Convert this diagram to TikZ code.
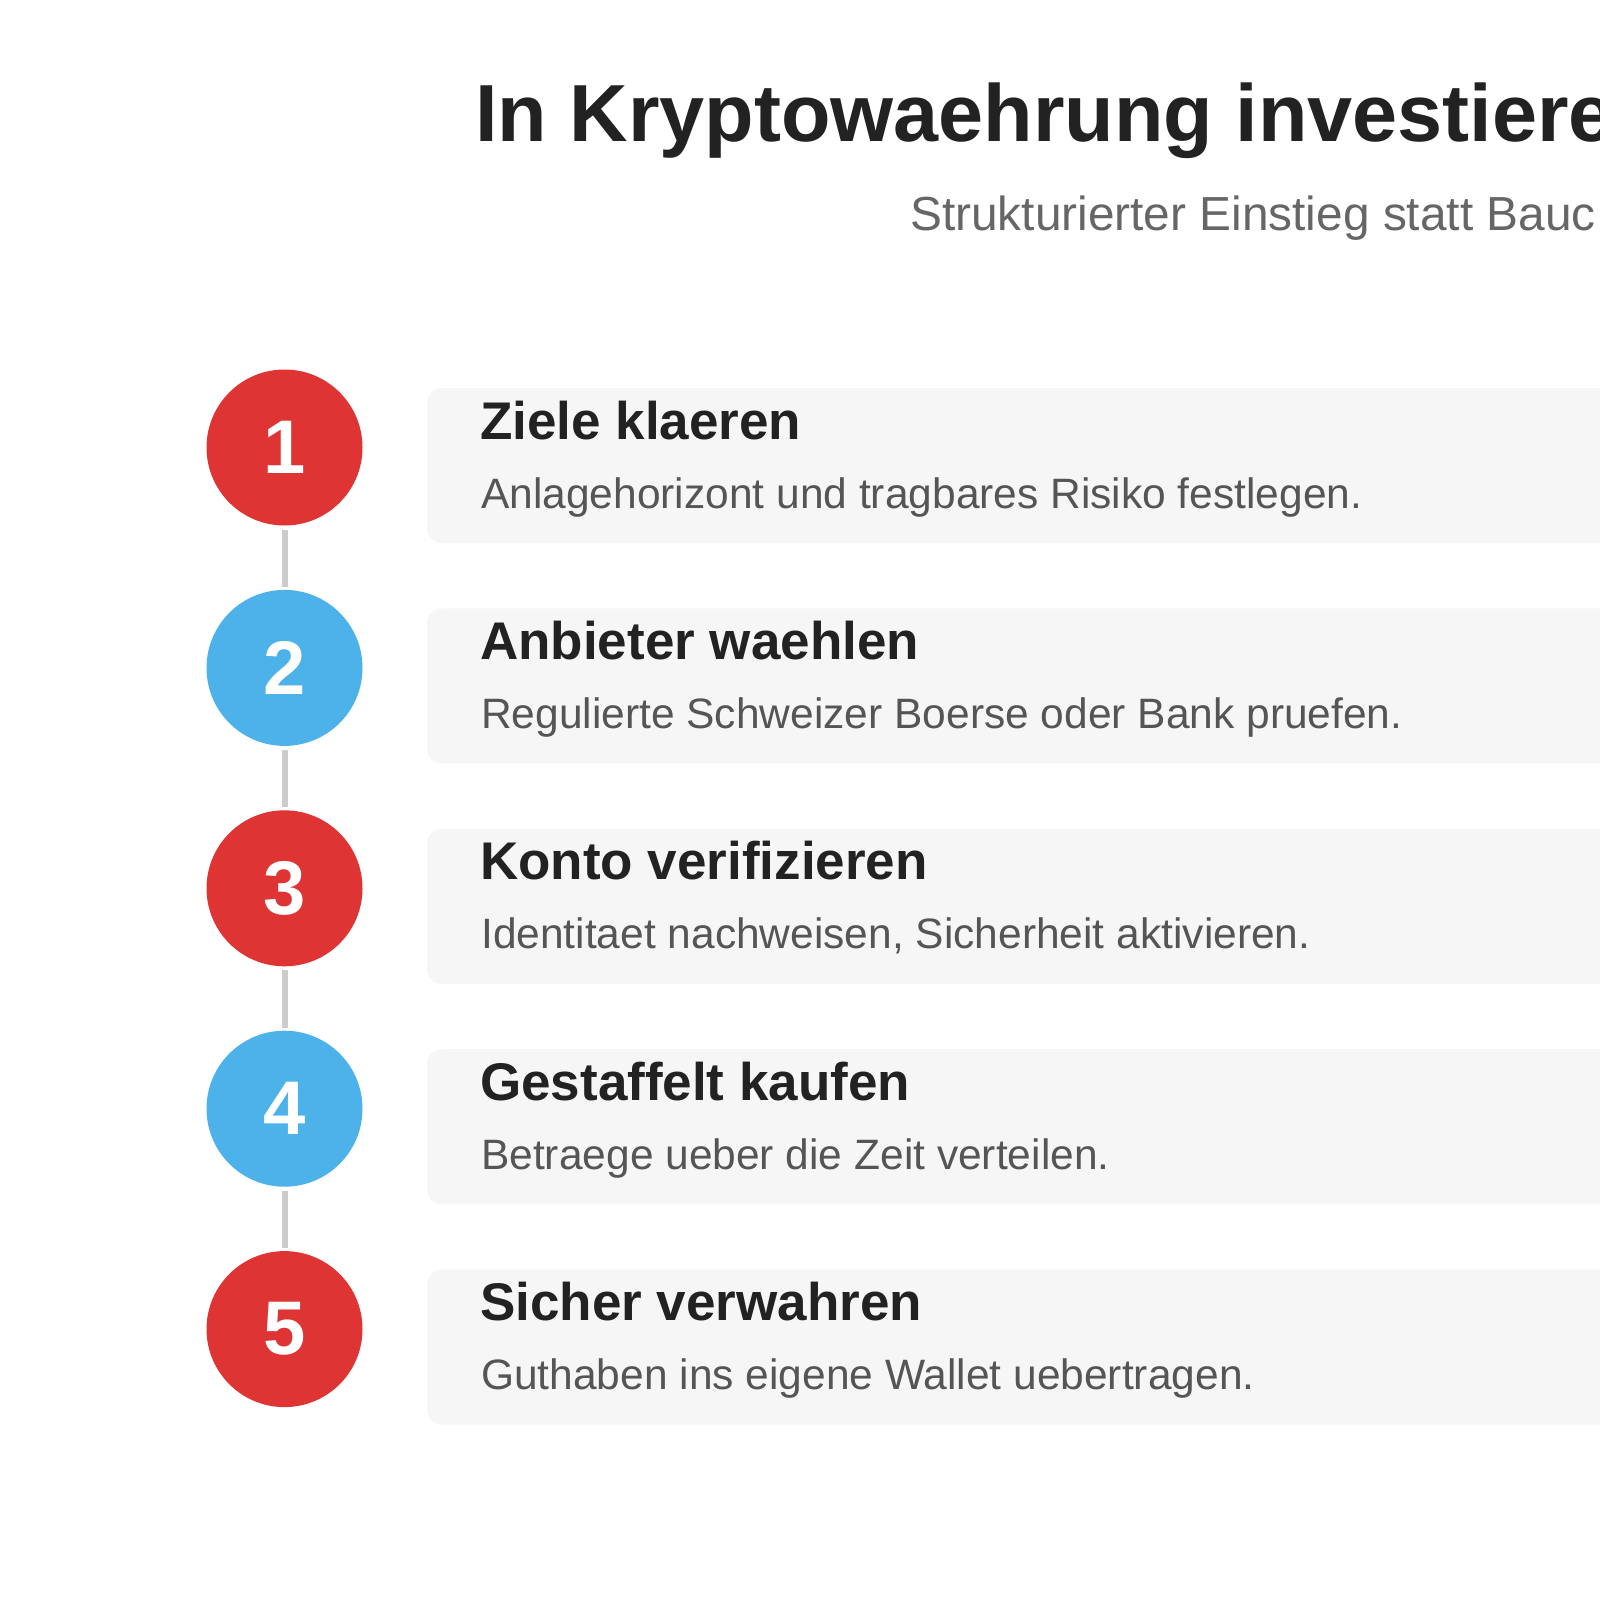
\documentclass[tikz,border=0pt]{standalone}
\usepackage{fontspec}
\setmainfont{Liberation Sans}
\definecolor{cred}{HTML}{DF3434}
\definecolor{cblue}{HTML}{4DB1EA}
\definecolor{cardbg}{HTML}{F6F6F6}
\definecolor{linegray}{HTML}{CCCCCC}
\definecolor{titlecol}{HTML}{222222}
\definecolor{desccol}{HTML}{555555}
\definecolor{subcol}{HTML}{666666}
\tikzset{
  numcircle/.style={circle, minimum size=156pt, inner sep=0pt, outer sep=0pt,
    text=white, font=\fontsize{76pt}{80pt}\selectfont\bfseries},
  card/.style={fill=cardbg, rounded corners=15pt, minimum width=1300pt,
    minimum height=155pt, inner sep=0pt, outer sep=0pt, anchor=north west},
  steptitle/.style={anchor=base west, inner sep=0pt, text=titlecol,
    font=\fontsize{53pt}{60pt}\selectfont\bfseries},
  stepdesc/.style={anchor=base west, inner sep=0pt, text=desccol,
    font=\fontsize{42.5pt}{50pt}\selectfont},
  conn/.style={draw=linegray, line width=6pt, shorten <=4pt, shorten >=3pt}
}
\begin{document}
\begin{tikzpicture}[x=1pt,y=-1pt]
\useasboundingbox (0,0) rectangle (1600,1600);
\clip (0,0) rectangle (1600,1600);
\fill[white] (0,0) rectangle (1600,1600);

\node[anchor=base west, inner sep=0pt, text=titlecol,
  font=\fontsize{81pt}{90pt}\selectfont\bfseries] (title) at (475,142) {In Kryptowaehrung investiere};
\node[anchor=base west, inner sep=0pt, text=subcol,
  font=\fontsize{47.8pt}{55pt}\selectfont] (sub) at (910,230) {Strukturierter Einstieg statt Bauc};

% cards
\node[card] (k1) at (427,388) {};
\node[card] (k2) at (427,608.4) {};
\node[card] (k3) at (427,828.8) {};
\node[card] (k4) at (427,1049.2) {};
\node[card] (k5) at (427,1269.6) {};

% circles and connectors
\node[numcircle, fill=cred]  (c1) at (284.5,447.5) {1};
\node[numcircle, fill=cblue] (c2) at (284.5,667.9) {2};
\node[numcircle, fill=cred]  (c3) at (284.5,888.3) {3};
\node[numcircle, fill=cblue] (c4) at (284.5,1108.7) {4};
\node[numcircle, fill=cred]  (c5) at (284.5,1329.1) {5};
\draw[conn] (c1) -- (c2);
\draw[conn] (c2) -- (c3);
\draw[conn] (c3) -- (c4);
\draw[conn] (c4) -- (c5);

% texts
\node[steptitle] (t1) at (480,439) {Ziele klaeren};
\node[stepdesc]  (d1) at (481,508) {Anlagehorizont und tragbares Risiko festlegen.};
\node[steptitle] (t2) at (480,659.4) {Anbieter waehlen};
\node[stepdesc]  (d2) at (481,728.4) {Regulierte Schweizer Boerse oder Bank pruefen.};
\node[steptitle] (t3) at (480,879.8) {Konto verifizieren};
\node[stepdesc]  (d3) at (481,948.8) {Identitaet nachweisen, Sicherheit aktivieren.};
\node[steptitle] (t4) at (480,1100.2) {Gestaffelt kaufen};
\node[stepdesc]  (d4) at (481,1169.2) {Betraege ueber die Zeit verteilen.};
\node[steptitle] (t5) at (480,1320.6) {Sicher verwahren};
\node[stepdesc]  (d5) at (481,1389.6) {Guthaben ins eigene Wallet uebertragen.};
\end{tikzpicture}
\end{document}
